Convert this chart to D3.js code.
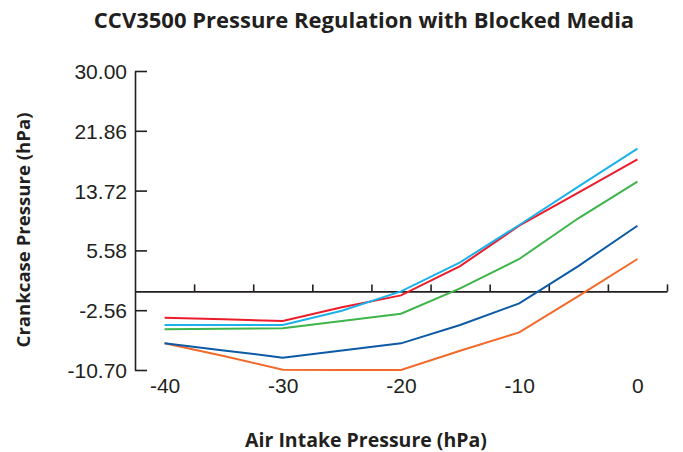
<!DOCTYPE html>
<html>
<head>
<meta charset="utf-8">
<script src="https://cdn.jsdelivr.net/npm/d3@7"></script>
<style>
  body { margin: 0; background: #fff; }
  svg { display: block; font-family: "Open Sans", sans-serif; }
  .axis path, .axis line { stroke: #231f20; stroke-width: 1.6; }
  .axis text { fill: #231f20; font-size: 21px; }
</style>
</head>
<body>
<div id="chart"></div>
<script>
// data
const airIntake = [-40, -35, -30, -25, -20, -15, -10, -5, 0];
const seriesOrange = [-7.07, -8.8, -10.66, -10.7, -10.7, -8.07, -5.58, -0.65, 4.41];
const seriesBlue = [-7.07, -8.03, -9.02, -8.03, -7.07, -4.58, -1.63, 3.45, 8.94];
const seriesGreen = [-5.17, -5.1, -5.03, -4.03, -3.03, 0.42, 4.41, 9.95, 14.94];
const seriesRed = [-3.58, -3.8, -4.03, -2.17, -0.54, 3.45, 8.94, 13.44, 17.98];
const seriesCyan = [-4.58, -4.58, -4.58, -2.63, 0.0, 3.96, 9.04, 14.26, 19.43];
const yTicks = [30.0, 21.86, 13.72, 5.58, -2.56, -10.7];
const xLabels = [-40, -30, -20, -10, 0];
const xTicks = [-37.5, -32.5, -27.5, -22.5, -17.5, -12.5, -7.5, -2.5, 2.5];

const series = [
  { values: seriesOrange, color: '#f26a2a' },
  { values: seriesBlue, color: '#0c5aa6' },
  { values: seriesGreen, color: '#3db54a' },
  { values: seriesRed, color: '#ec1c2b' },
  { values: seriesCyan, color: '#1cb1ea' }
];

const width = 683, height = 452;
const svg = d3.select('#chart').append('svg')
  .attr('width', width)
  .attr('height', height);

// scales
const xScale = d3.scaleLinear().domain([-42.5, 2.5]).range([135, 667]);
const yScale = d3.scaleLinear().domain([-10.7, 30]).range([370, 71]);

// y axis, ticks pointing inward
svg.append('g')
  .attr('class', 'axis')
  .attr('transform', `translate(${xScale(-42.5)},0)`)
  .call(d3.axisLeft(yScale)
    .tickValues(yTicks)
    .tickFormat(d => d.toFixed(2))
    .tickSizeInner(-12)
    .tickSizeOuter(0)
    .tickPadding(8))
  .call(g => g.selectAll('text').attr('dy', '0.36em'));

// x axis drawn along zero, ticks pointing up, no labels
svg.append('g')
  .attr('class', 'axis')
  .attr('transform', `translate(0,${yScale(0)})`)
  .call(d3.axisTop(xScale)
    .tickValues(xTicks)
    .tickFormat('')
    .tickSizeInner(7)
    .tickSizeOuter(0));

// x labels below the plot (plain hyphen minus like the original)
svg.append('g')
  .attr('class', 'axis')
  .attr('transform', 'translate(0,374)')
  .call(d3.axisBottom(xScale)
    .tickValues(xLabels)
    .tickFormat(d => String(d))
    .tickSize(0)
    .tickPadding(4))
  .call(g => g.select('.domain').remove());

// lines
const line = d3.line()
  .x((d, i) => xScale(airIntake[i]))
  .y(d => yScale(d));

svg.append('g')
  .selectAll('path')
  .data(series)
  .enter()
  .append('path')
  .attr('fill', 'none')
  .attr('stroke', d => d.color)
  .attr('stroke-width', 2)
  .attr('d', d => line(d.values));

// titles
svg.append('text')
  .attr('x', 364)
  .attr('y', 28)
  .attr('text-anchor', 'middle')
  .attr('font-size', 22)
  .attr('font-weight', 'bold')
  .attr('fill', '#231f20')
  .text('CCV3500 Pressure Regulation with Blocked Media');

svg.append('text')
  .attr('x', 366)
  .attr('y', 447)
  .attr('text-anchor', 'middle')
  .attr('font-size', 19.5)
  .attr('font-weight', 'bold')
  .attr('fill', '#231f20')
  .text('Air Intake Pressure (hPa)');

svg.append('text')
  .attr('transform', 'translate(30,230) rotate(-90)')
  .attr('text-anchor', 'middle')
  .attr('font-size', 18.6)
  .attr('font-weight', 'bold')
  .attr('fill', '#231f20')
  .text('Crankcase Pressure (hPa)');
</script>
</body>
</html>
